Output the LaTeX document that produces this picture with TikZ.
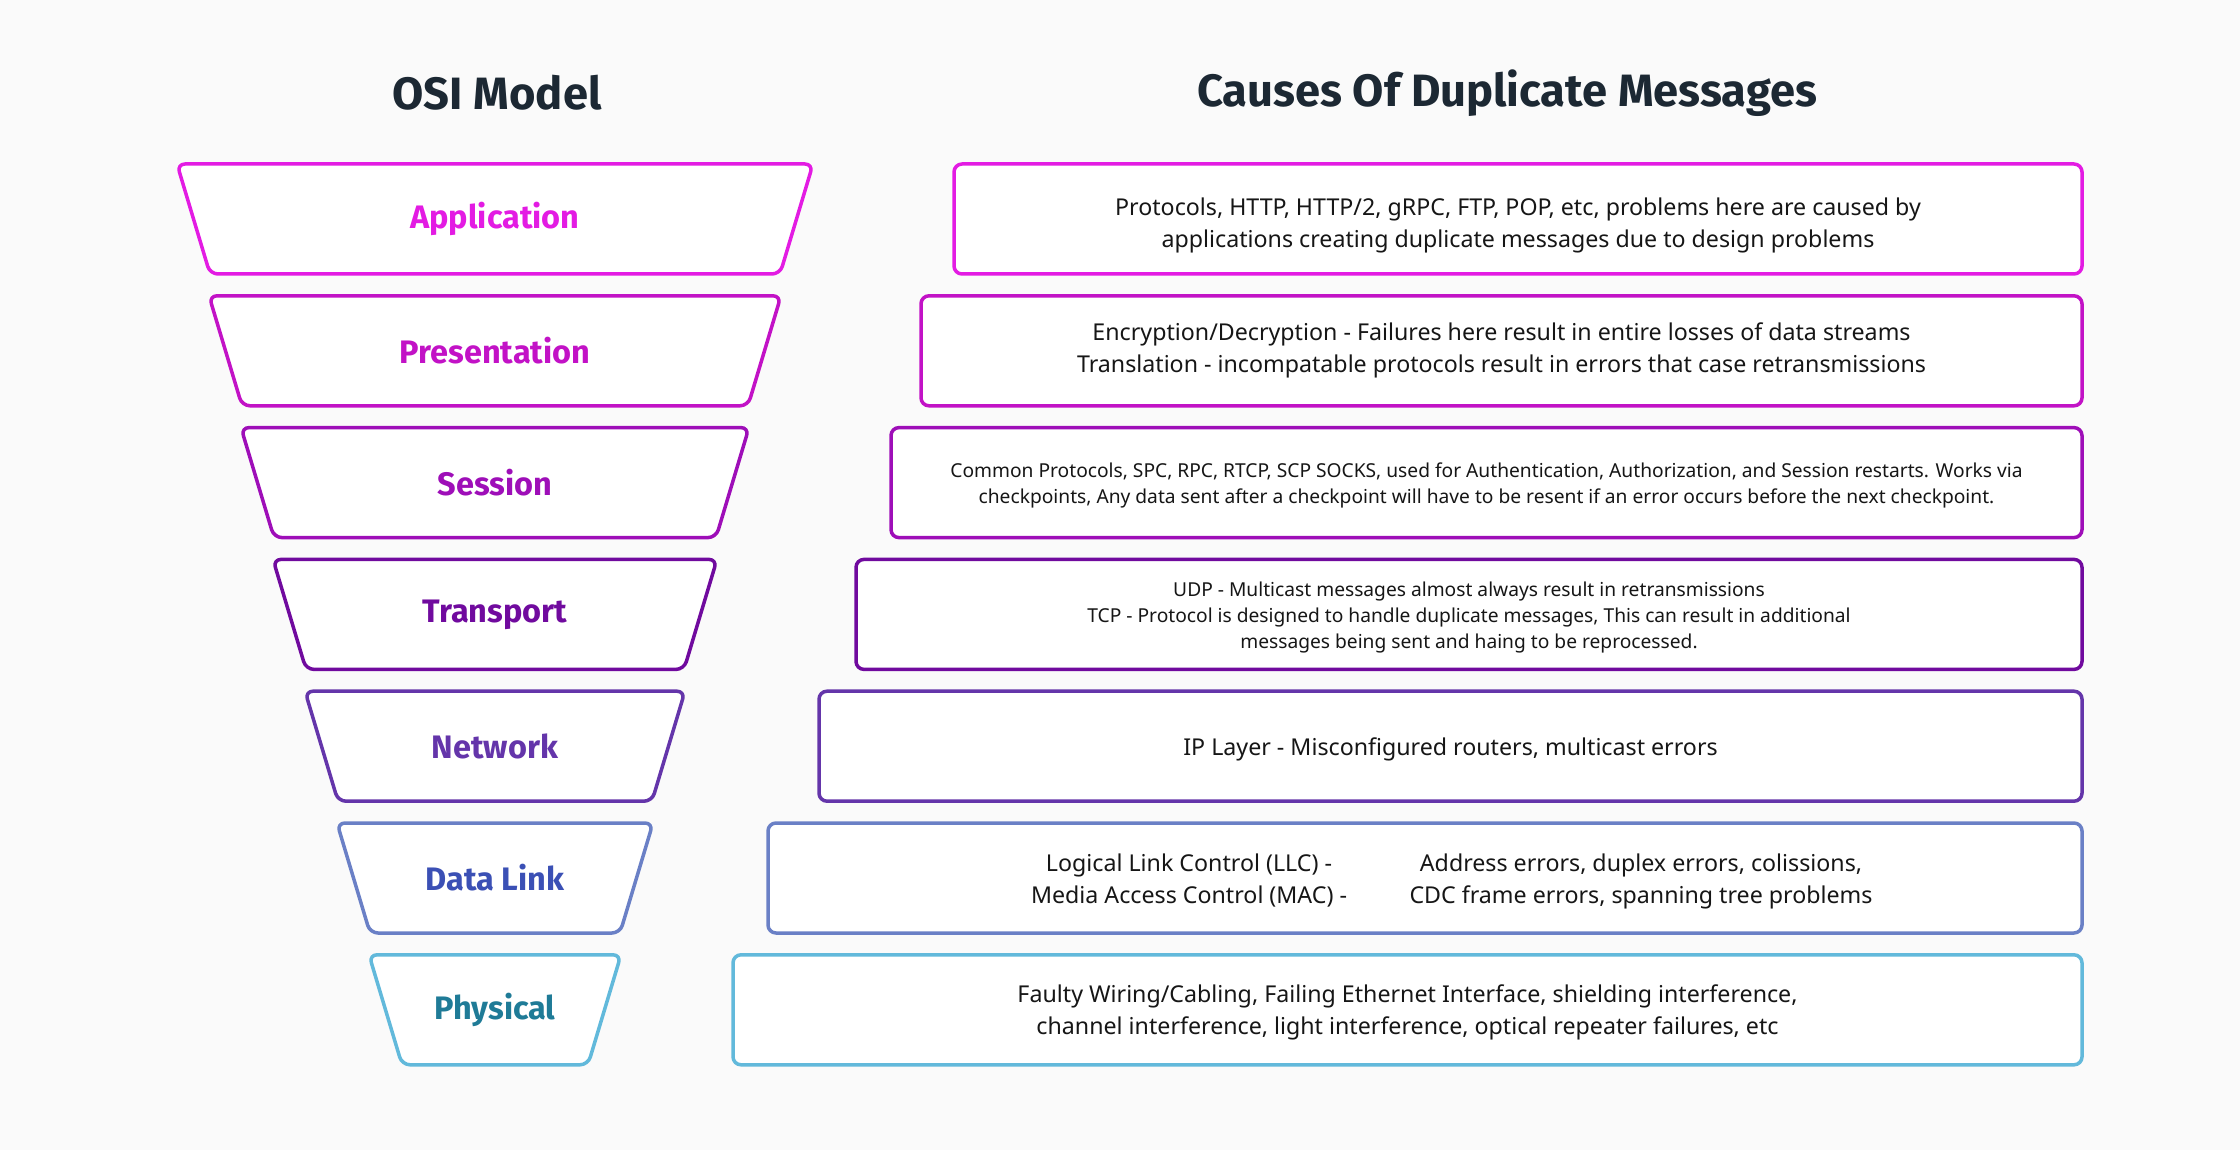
\documentclass[tikz,border=0pt]{standalone}
\usepackage{fontspec}
\setmainfont{Noto Sans}
\newfontfamily\headfont{Fira Sans}
\usetikzlibrary{calc}
\definecolor{bg}{HTML}{FAFAFA}
\definecolor{ttl}{HTML}{1C2833}
\definecolor{txt}{HTML}{161616}
\definecolor{cA}{HTML}{E31BE3}
\definecolor{cB}{HTML}{C212C6}
\definecolor{cC}{HTML}{9E0EB8}
\definecolor{cD}{HTML}{700A9E}
\definecolor{cE}{HTML}{6435AA}
\definecolor{cF}{HTML}{6A80C6}
\definecolor{cFt}{HTML}{3B50B5}
\definecolor{cG}{HTML}{62B9DB}
\definecolor{cGt}{HTML}{1F7B97}
\tikzset{
  layerbox/.style={line width=3.5pt, rounded corners=8pt, fill=white, line join=round},
  layerlabel/.style={font=\headfont\bfseries\fontsize{32.5}{38}\selectfont, inner sep=0pt},
  titletext/.style={font=\headfont\bfseries\fontsize{45.3}{54}\selectfont, text=ttl, inner sep=0pt},
  bodytext/.style={font=\fontsize{23.2}{32}\selectfont, text=txt, align=center, inner sep=0pt},
  smalltext/.style={font=\fontsize{19.2}{26}\selectfont, text=txt, align=center, inner sep=0pt}
}
\newcommand{\osilayer}[5]{% #1 index, #2 stroke, #3 text colour, #4 name, #5 label
  \pgfmathsetmacro{\yt}{164+131.8*#1}
  \pgfmathsetmacro{\yb}{\yt+110}
  \pgfmathsetmacro{\wt}{318-32*#1}
  \pgfmathsetmacro{\wb}{\wt-33}
  \draw[layerbox, draw=#2] (495-\wt,\yt) -- (495+\wt,\yt) -- (495+\wb,\yb) -- (495-\wb,\yb) -- cycle;
  \node[layerlabel, text=#3] (#4) at (495,\yt+55) {#5};
}
\newcommand{\causebox}[4]{% #1 index, #2 stroke, #3 left, #4 name
  \pgfmathsetmacro{\yt}{164+131.8*#1}
  \pgfmathsetmacro{\yb}{\yt+110}
  \draw[layerbox, draw=#2] (#3,\yt) rectangle (2082,\yb);
  \coordinate (#4) at ($(#3,\yt)!0.5!(2082,\yb)+(0,3)$);
}
\begin{document}
\begin{tikzpicture}[x=1pt,y=-1pt]
\useasboundingbox (0,0) rectangle (2240,1150);
\fill[bg] (0,0) rectangle (2240,1150);

\node[titletext] (t1) at (497,93) {OSI Model};
\node[titletext] (t2) at (1507,93) {Causes Of Duplicate Messages};

\osilayer{0}{cA}{cA}{lA}{Application}
\osilayer{1}{cB}{cB}{lB}{Presentation}
\osilayer{2}{cC}{cC}{lC}{Session}
\osilayer{3}{cD}{cD}{lD}{Transport}
\osilayer{4}{cE}{cE}{lE}{Network}
\osilayer{5}{cF}{cFt}{lF}{Data Link}
\osilayer{6}{cG}{cGt}{lG}{Physical}

\causebox{0}{cA}{954}{bA}
\causebox{1}{cB}{921}{bB}
\causebox{2}{cC}{891}{bC}
\causebox{3}{cD}{856}{bD}
\causebox{4}{cE}{819}{bE}
\causebox{5}{cF}{768}{bF}
\causebox{6}{cG}{733}{bG}

\node[bodytext] (xA) at ([yshift=-3pt]bA) {Protocols, HTTP, HTTP/2, gRPC, FTP, POP, etc, problems here are caused by\\applications creating duplicate messages due to design problems};
\node[bodytext] (xB) at ([yshift=3pt]bB) {Encryption/Decryption - Failures here result in entire losses of data streams\\Translation - incompatable protocols result in errors that case retransmissions};
\node[smalltext] (xC) at (bC) {Common Protocols, SPC, RPC, RTCP, SCP SOCKS, used for Authentication, Authorization, and Session restarts. Works via\\checkpoints, Any data sent after a checkpoint will have to be resent if an error occurs before the next checkpoint.};
\node[smalltext] (xD) at (bD) {UDP - Multicast messages almost always result in retransmissions\\TCP - Protocol is designed to handle duplicate messages, This can result in additional\\messages being sent and haing to be reprocessed.};
\node[bodytext] (xE) at (bE) {IP Layer - Misconfigured routers, multicast errors};
\node[bodytext] (xF1) at (1189,881) {Logical Link Control (LLC) -\\Media Access Control (MAC) -};
\node[bodytext] (xF2) at (1641,881) {Address errors, duplex errors, colissions,\\CDC frame errors, spanning tree problems};
\node[bodytext] (xG) at (bG) {Faulty Wiring/Cabling, Failing Ethernet Interface, shielding interference,\\channel interference, light interference, optical repeater failures, etc};
\end{tikzpicture}
\end{document}
